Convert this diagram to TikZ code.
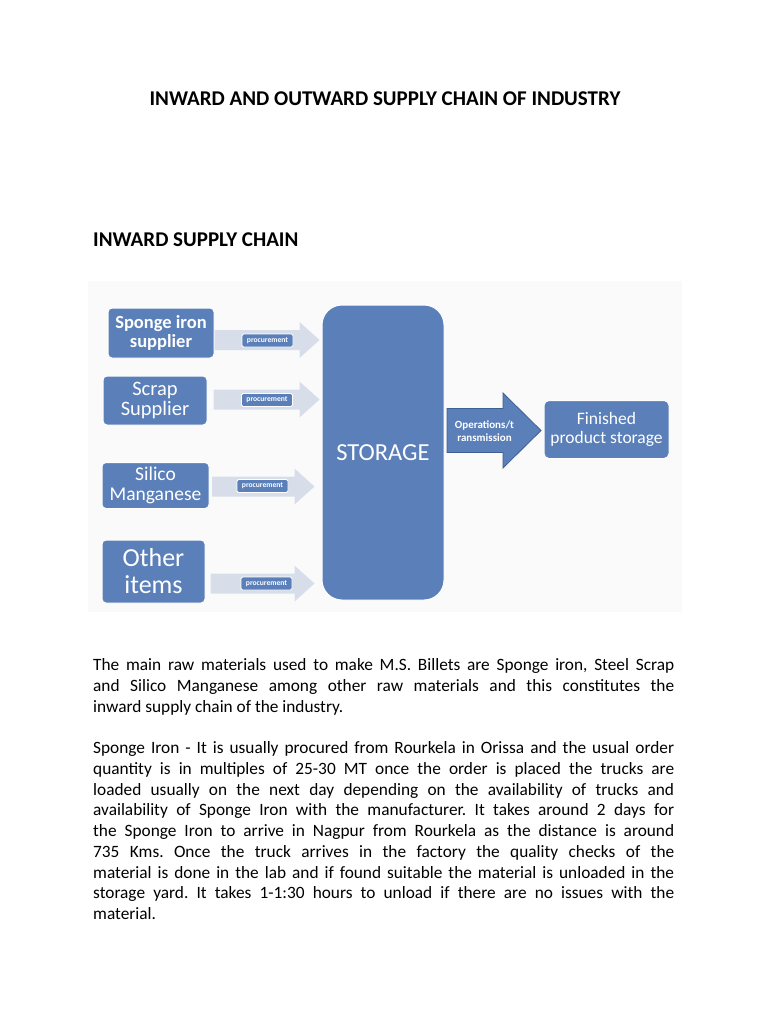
\documentclass[tikz,border=0pt]{standalone}
\usepackage{fontspec}
\setmainfont{Carlito}
\usetikzlibrary{calc}
\definecolor{boxblue}{HTML}{5A7FB9}
\definecolor{lightarrow}{HTML}{D7DEE9}
\definecolor{darkline}{HTML}{3E5F90}
\definecolor{panelbg}{HTML}{FAFAFB}
\tikzset{
  bluebox/.style={draw=white, line width=1pt, fill=boxblue, rounded corners=4pt, text=white, align=center, inner sep=0pt},
  proclabel/.style={draw=white, line width=0.8pt, fill=boxblue, rounded corners=1.5pt, text=white, inner sep=0pt,
     minimum width=51pt, minimum height=13pt, font=\fontsize{7.6}{8}\selectfont\bfseries},
  lightarr/.style={fill=lightarrow},
  opsarr/.style={fill=boxblue, draw=darkline, line width=0.8pt, line join=miter},
  bodytext/.style={anchor=base west, inner sep=0pt}
}
% #1 style, #2 start, #3 tip, #4 half body, #5 half head, #6 head length
\newcommand{\blockarr}[6]{%
  \path[#1] let \p1=#2, \p2=#3 in
    (\x1,\y1+#4) -- (\x2-#6,\y1+#4) -- (\x2-#6,\y1+#5) -- (\x2,\y1)
    -- (\x2-#6,\y1-#5) -- (\x2-#6,\y1-#4) -- (\x1,\y1-#4) -- cycle;}
\newcommand{\jline}[1]{\makebox[581pt][s]{#1}}
\begin{document}
\begin{tikzpicture}[x=1pt,y=-1pt]
\useasboundingbox (0,0) rectangle (768,1024);
\fill[white] (0,0) rectangle (768,1024);

% titles
\node[anchor=base, inner sep=0pt, font=\fontsize{21}{24}\selectfont\bfseries] (title) at (385,106)
  {INWARD AND OUTWARD SUPPLY CHAIN OF INDUSTRY};
\node[anchor=base west, inner sep=0pt, font=\fontsize{21}{24}\selectfont\bfseries] (heading) at (93,247)
  {INWARD SUPPLY CHAIN};

% diagram panel
\fill[panelbg] (88,281) rectangle (682,612);

% nodes
\node[bluebox, minimum width=106pt, minimum height=50pt, font=\fontsize{18.5}{18.5}\selectfont\bfseries] (sponge) at (161,333)
  {Sponge iron\\supplier};
\node[bluebox, minimum width=104pt, minimum height=49pt, font=\fontsize{20.5}{19.5}\selectfont] (scrap) at (155,400.5)
  {Scrap\\Supplier};
\node[bluebox, minimum width=107pt, minimum height=46pt, font=\fontsize{19.5}{19.5}\selectfont] (silico) at (155.5,485.5)
  {Silico\\Manganese};
\node[bluebox, minimum width=103pt, minimum height=63pt, font=\fontsize{26}{27}\selectfont] (other) at (153.5,571.5)
  {Other\\items};
\node[bluebox, rounded corners=20pt, minimum width=122pt, minimum height=295pt, font=\fontsize{24.5}{26}\selectfont] (storage) at (383,452.5)
  {STORAGE};
\node[bluebox, rounded corners=5pt, minimum width=125pt, minimum height=58pt, font=\fontsize{17.5}{18.5}\selectfont] (finished) at (606.5,429.5)
  {Finished\\product storage};

% inward arrows
\coordinate (a1s) at ($(sponge.east)+(0,7)$);
\coordinate (a1t) at ($(storage.west |- a1s)+(-2,0)$);
\coordinate (a2s) at ($(scrap.east)+(6,-1)$);
\coordinate (a2t) at ($(storage.west |- a2s)+(-2,0)$);
\coordinate (a3s) at ($(silico.east)+(2.5,1)$);
\coordinate (a3t) at ($(storage.west |- a3s)+(-7,0)$);
\coordinate (a4s) at ($(other.east)+(5,12)$);
\coordinate (a4t) at ($(storage.west |- a4s)+(-7,0)$);
\blockarr{lightarr}{(a1s)}{(a1t)}{10}{18}{20}
\blockarr{lightarr}{(a2s)}{(a2t)}{10}{18}{20}
\blockarr{lightarr}{(a3s)}{(a3t)}{10}{18}{20}
\blockarr{lightarr}{(a4s)}{(a4t)}{10}{18}{20}

\node[proclabel] (proc1) at (267.5,340.5) {procurement};
\node[proclabel] (proc2) at (267,400) {procurement};
\node[proclabel] (proc3) at (262.5,486) {procurement};
\node[proclabel] (proc4) at (266.5,583.5) {procurement};

% outward arrow
\coordinate (o1s) at ($(storage.east |- finished.west)+(2.5,1)$);
\coordinate (o1t) at ($(finished.west)+(-2.5,1)$);
\blockarr{opsarr}{(o1s)}{(o1t)}{22}{37.5}{38}
\node[text=white, align=center, inner sep=0pt, font=\fontsize{11}{13}\selectfont\bfseries] (ops) at (484.5,431)
  {Operations/t\\ransmission};

% body text
\node[bodytext] (para1) at (93,670.5) {\parbox[t]{581pt}{\fontsize{17.3}{20.75}\selectfont\frenchspacing
\jline{The main raw materials used to make M.S. Billets are Sponge iron, Steel Scrap}\\
\jline{and Silico Manganese among other raw materials and this constitutes the}\\
inward supply chain of the industry.}};
\node[bodytext] (para2) at (93,753.5) {\parbox[t]{581pt}{\fontsize{17.3}{20.75}\selectfont\frenchspacing
\jline{Sponge Iron - It is usually procured from Rourkela in Orissa and the usual order}\\
\jline{quantity is in multiples of 25-30 MT once the order is placed the trucks are}\\
\jline{loaded usually on the next day depending on the availability of trucks and}\\
\jline{availability of Sponge Iron with the manufacturer. It takes around 2 days for}\\
\jline{the Sponge Iron to arrive in Nagpur from Rourkela as the distance is around}\\
\jline{735 Kms. Once the truck arrives in the factory the quality checks of the}\\
\jline{material is done in the lab and if found suitable the material is unloaded in the}\\
\jline{storage yard. It takes 1-1:30 hours to unload if there are no issues with the}\\
material.}};
\end{tikzpicture}
\end{document}
